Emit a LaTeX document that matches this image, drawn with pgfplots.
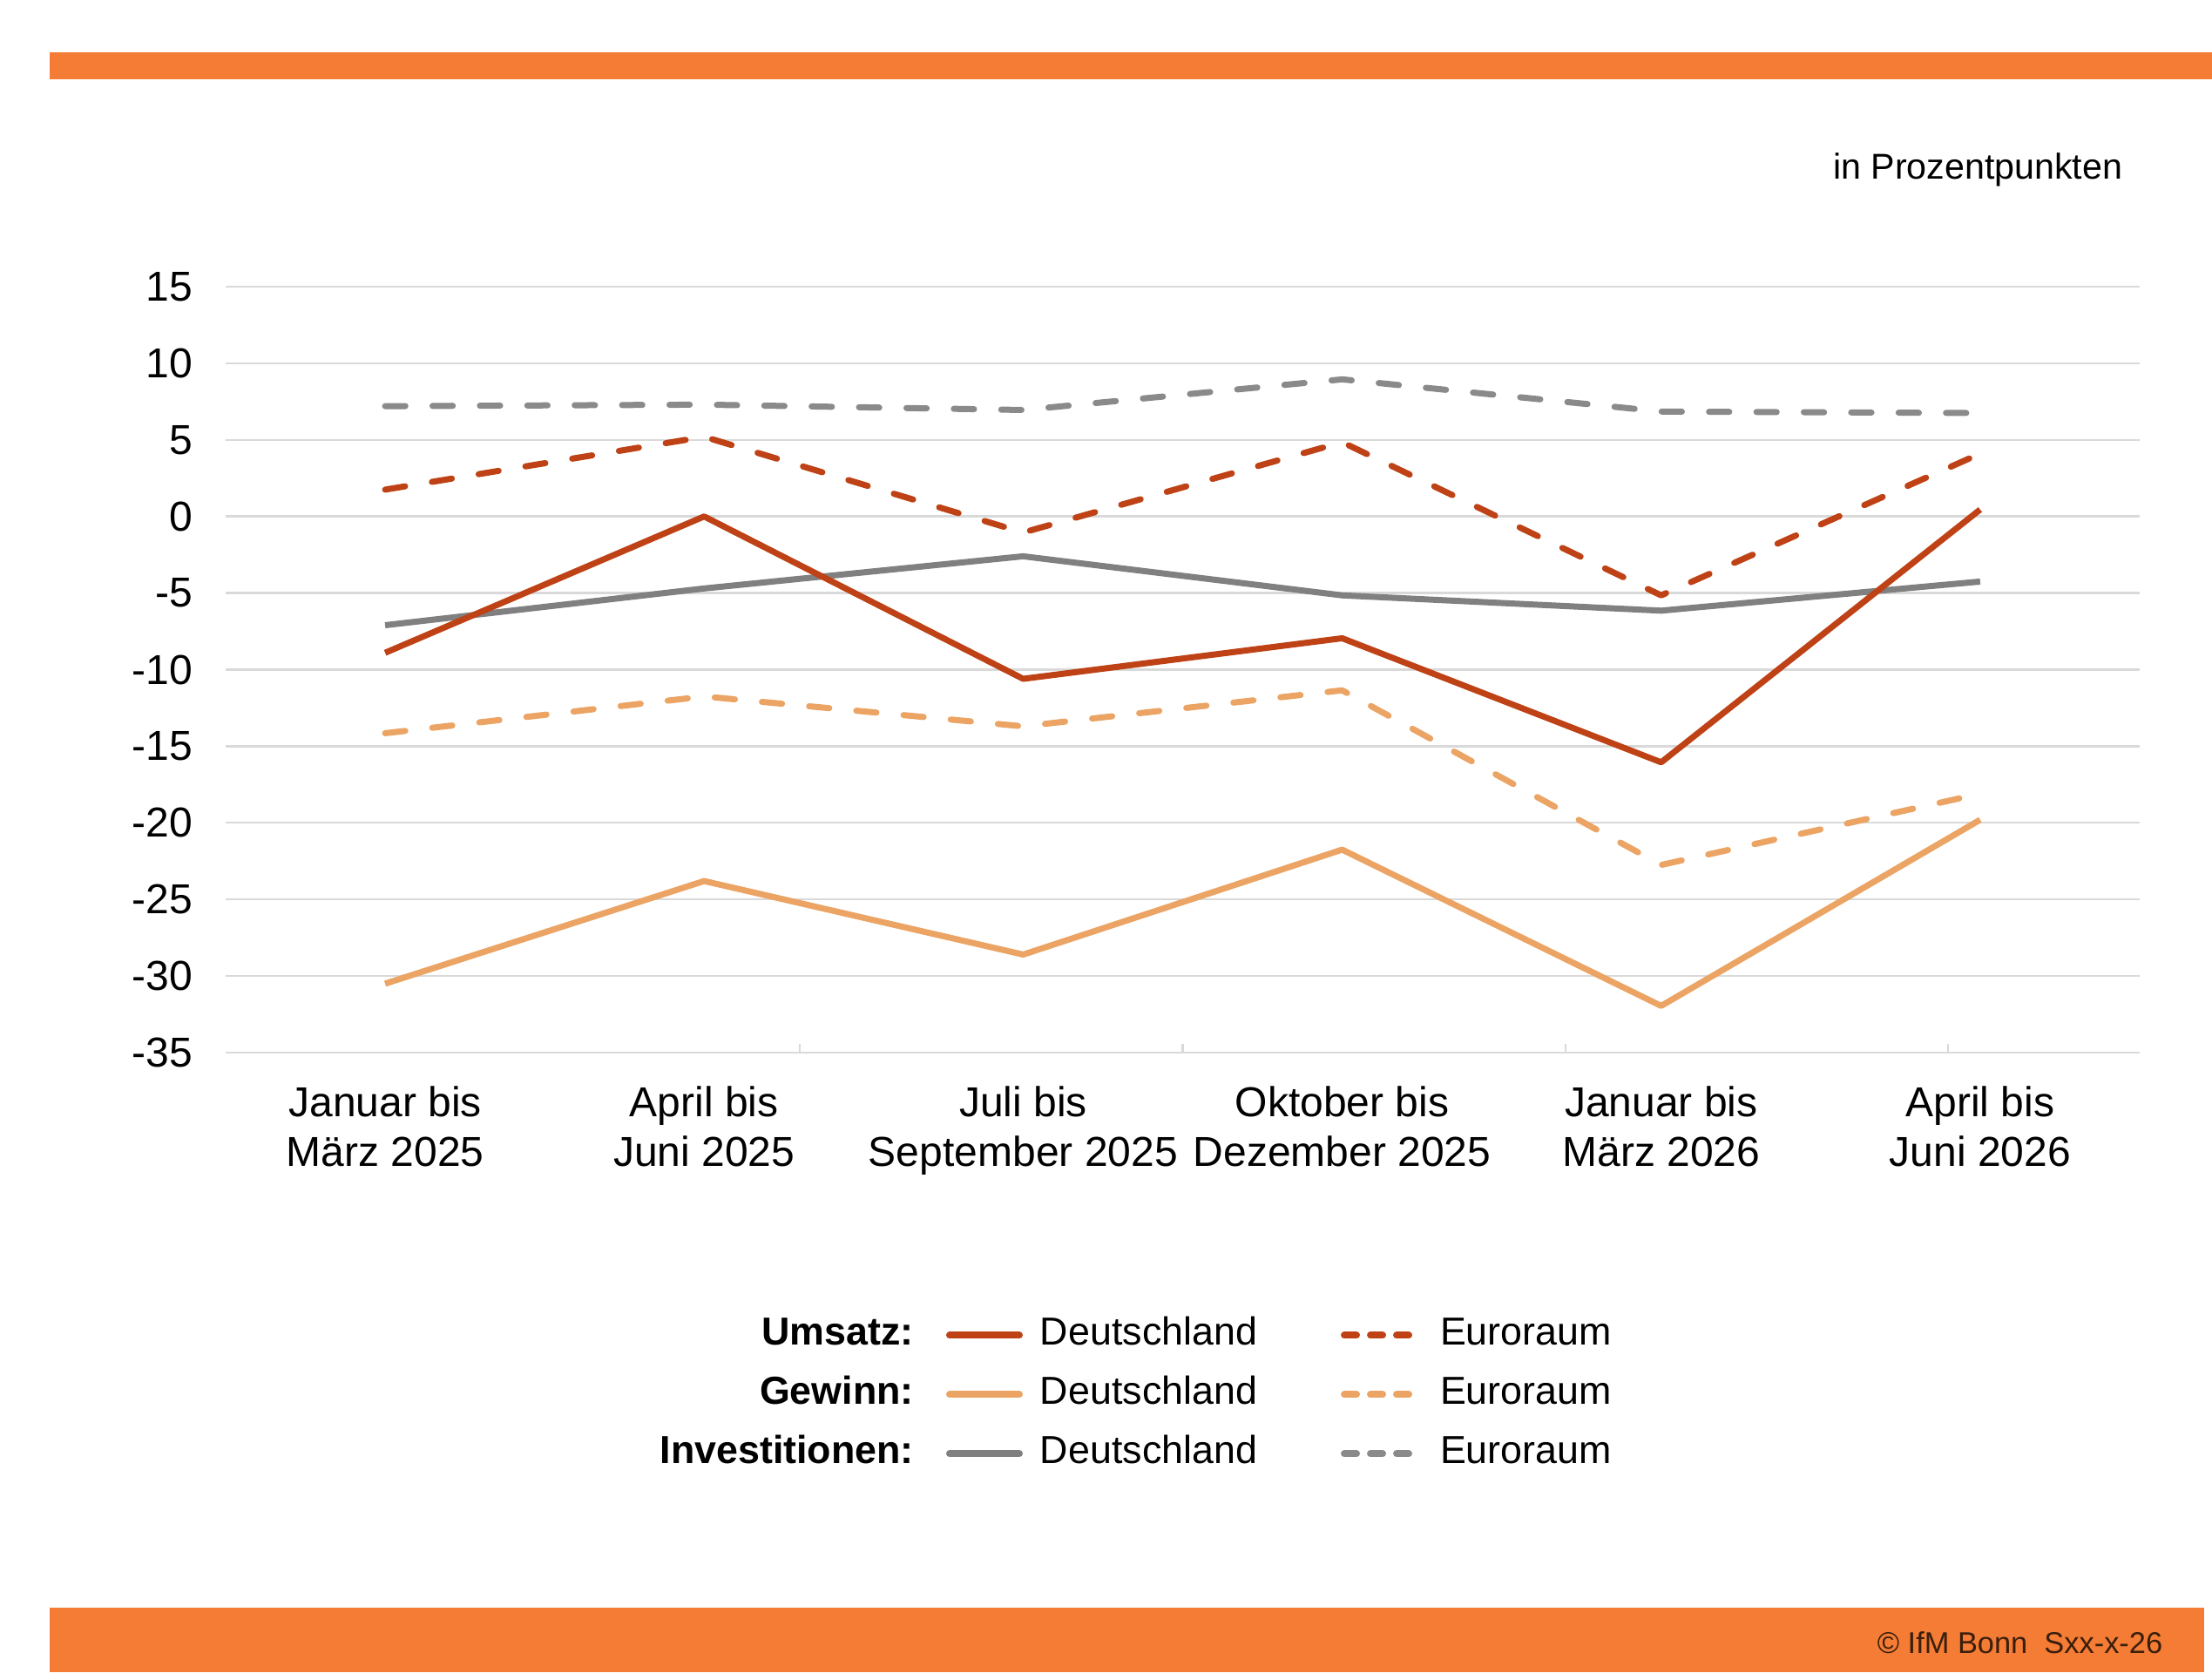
\documentclass[border=0pt]{standalone}
\usepackage{fontspec}
\setmainfont{Liberation Sans}
\usepackage{pgfplots}
\pgfplotsset{compat=1.18}
\definecolor{barorange}{HTML}{F47C35}
\definecolor{umsatz}{HTML}{BE4215}
\definecolor{gewinn}{HTML}{EBA464}
\definecolor{invest}{HTML}{808080}
\definecolor{investeu}{HTML}{8A8A8A}
\definecolor{gridgray}{HTML}{D9D9D9}
\definecolor{copytext}{HTML}{3A1E0C}
\pgfplotsset{
  legsolid/.style={legend image code/.code={\draw[line width=2pt, solid, line cap=round] (1pt,0pt) -- (21pt,0pt);}},
  legdash/.style={legend image code/.code={\draw[line width=2pt, line cap=round, dash pattern=on 3.5pt off 4pt] (1pt,0pt) -- (20.5pt,0pt);}},
  ser/.style={line width=1.75pt, line join=round, forget plot},
  dsh/.style={line cap=round, dash pattern=on 5.8pt off 7.8pt},
}
\begin{document}
\begin{tikzpicture}
\path[use as bounding box] (0,0) rectangle (634.75pt,482pt);
\fill[white] (0,0) rectangle (634.75pt,482pt);
\fill[barorange] (14.25pt,459.25pt) rectangle (634.75pt,467pt);
\fill[barorange] (14.25pt,2.25pt) rectangle (632.5pt,20.75pt);
\node[anchor=base east, font=\fontsize{8.6}{10}\selectfont, text=copytext, inner sep=0pt] at (620.75pt,7.5pt) {© IfM Bonn\ \ Sxx-x-26};
\node[anchor=base east, font=\fontsize{10.3}{12}\selectfont, inner sep=0pt] at (609.25pt,430.5pt) {in Prozentpunkten};
\begin{axis}[
  scale only axis, width=549.25pt, height=219.75pt,
  at={(64.75pt,180pt)}, anchor=south west,
  xmin=-0.5, xmax=5.5, ymin=-35, ymax=15,
  ytick={-35,-30,...,15},
  xtick={0,...,5},
  xticklabels={{Januar bis\\März 2025},{April bis\\Juni 2025},{Juli bis\\September 2025},{Oktober bis\\Dezember 2025},{Januar bis\\März 2026},{April bis\\Juni 2026}},
  xticklabel style={align=center, font=\fontsize{12}{14.1}\selectfont, yshift=-6.2pt},
  yticklabel style={font=\fontsize{12}{14}\selectfont, xshift=-6pt},
  /pgf/number format/assume math mode=true,
  axis line style={draw=none},
  major tick length=0pt,
  xtick pos=lower, ytick pos=left,
  ymajorgrids, major grid style={gridgray, line width=0.6pt},
  extra x ticks={1.3,2.5,3.7,4.9},
  extra x tick labels={},
  extra x tick style={grid=none, major tick length=2.5pt, tick align=inside, tick style={draw=gridgray, line width=0.6pt}},
  clip=false,
  legend columns=3,
  legend cell align=right,
  legend style={at={(0.4755,-0.4465)}, anchor=center, draw=none, fill=none,
    column sep=0pt, row sep=6.5pt, font=\fontsize{11.2}{13}\selectfont,
    nodes={inner sep=0pt, text height=8pt, text depth=2.5pt}},
]
\addplot[ser, invest] coordinates {(0,-7.1) (1,-4.7) (2,-2.6) (3,-5.15) (4,-6.15) (5,-4.25)};
\addplot[ser, dsh, investeu] coordinates {(0,7.2) (1,7.3) (2,6.95) (3,8.95) (4,6.85) (5,6.75)};
\addplot[ser, gewinn] coordinates {(0,-30.5) (1,-23.8) (2,-28.6) (3,-21.75) (4,-31.95) (5,-19.8)};
\addplot[ser, dsh, gewinn] coordinates {(0,-14.15) (1,-11.75) (2,-13.7) (3,-11.35) (4,-22.75) (5,-18.1)};
\addplot[ser, umsatz] coordinates {(0,-8.9) (1,0) (2,-10.6) (3,-7.95) (4,-16.05) (5,0.45)};
\addplot[ser, dsh, umsatz] coordinates {(0,1.75) (1,5.2) (2,-1.05) (3,4.85) (4,-5.15) (5,4.1)};
\addlegendimage{empty legend}\addlegendentry{\textbf{Umsatz:}\hspace*{9.3pt}}
\addlegendimage{legsolid, umsatz}\addlegendentry{\hspace*{5pt}Deutschland\hspace*{24pt}}
\addlegendimage{legdash, umsatz}\addlegendentry{\hspace*{7pt}Euroraum}
\addlegendimage{empty legend}\addlegendentry{\textbf{Gewinn:}\hspace*{9.3pt}}
\addlegendimage{legsolid, gewinn}\addlegendentry{\hspace*{5pt}Deutschland\hspace*{24pt}}
\addlegendimage{legdash, gewinn}\addlegendentry{\hspace*{7pt}Euroraum}
\addlegendimage{empty legend}\addlegendentry{\textbf{Investitionen:}\hspace*{9.3pt}}
\addlegendimage{legsolid, invest}\addlegendentry{\hspace*{5pt}Deutschland\hspace*{24pt}}
\addlegendimage{legdash, investeu}\addlegendentry{\hspace*{7pt}Euroraum}
\end{axis}
\end{tikzpicture}
\end{document}
